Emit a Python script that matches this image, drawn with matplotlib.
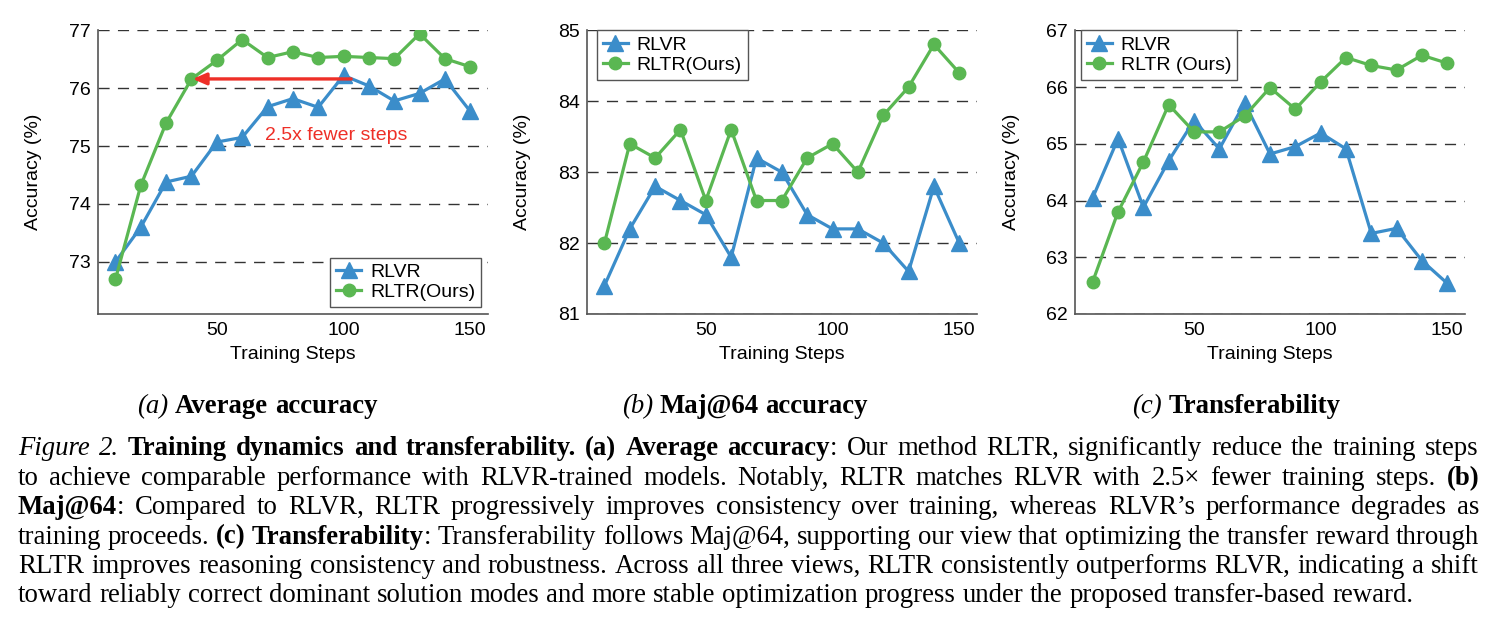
import matplotlib
matplotlib.use("Agg")
import matplotlib.pyplot as plt

plt.rcParams['font.family'] = ['Liberation Sans', 'DejaVu Sans']

# ---- data ----
steps = [10, 20, 30, 40, 50, 60, 70, 80, 90, 100, 110, 120, 130, 140, 150]

avg_rlvr = [73.0, 73.6, 74.38, 74.48, 75.07, 75.15, 75.68, 75.82, 75.67, 76.22, 76.04, 75.78, 75.91, 76.16, 75.6]
avg_rltr = [72.7, 74.32, 75.4, 76.16, 76.48, 76.84, 76.53, 76.63, 76.53, 76.55, 76.53, 76.51, 76.94, 76.51, 76.37]

maj_rlvr = [81.4, 82.2, 82.8, 82.6, 82.4, 81.8, 83.2, 83.0, 82.4, 82.2, 82.2, 82.0, 81.6, 82.8, 82.0]
maj_rltr = [82.0, 83.4, 83.2, 83.6, 82.6, 83.6, 82.6, 82.6, 83.2, 83.4, 83.0, 83.8, 84.2, 84.8, 84.4]

tr_rlvr = [64.05, 65.09, 63.88, 64.7, 65.41, 64.91, 65.72, 64.82, 64.95, 65.19, 64.91, 63.42, 63.51, 62.94, 62.54]
tr_rltr = [62.57, 63.8, 64.68, 65.69, 65.21, 65.21, 65.49, 65.99, 65.61, 66.09, 66.52, 66.38, 66.3, 66.56, 66.42]

panel_ylims = [(72.1, 77), (81, 85), (62, 67)]
panel_yticks = [[73, 74, 75, 76, 77], [81, 82, 83, 84, 85], [62, 63, 64, 65, 66, 67]]
xticks = [50, 100, 150]
legend_names = [["RLVR", "RLTR(Ours)"], ["RLVR", "RLTR(Ours)"], ["RLVR", "RLTR (Ours)"]]

subcaptions = [
    [("(a)", "i"), (" Average accuracy", "b")],
    [("(b)", "i"), (" Maj@64 accuracy", "b")],
    [("(c)", "i"), (" Transferability", "b")],
]
caption_lines = [
    [("Figure 2.", "i"), (" ", "r"), ("Training dynamics and transferability. (a) Average accuracy", "b"),
     (": Our method RLTR, significantly reduce the training steps", "r")],
    [("to achieve comparable performance with RLVR-trained models. Notably, RLTR matches RLVR with 2.5\u00d7 fewer training steps. ", "r"),
     ("(b)", "b")],
    [("Maj@64", "b"), (": Compared to RLVR, RLTR progressively improves consistency over training, whereas RLVR\u2019s performance degrades as", "r")],
    [("training proceeds. ", "r"), ("(c) Transferability", "b"),
     (": Transferability follows Maj@64, supporting our view that optimizing the transfer reward through", "r")],
    [("RLTR improves reasoning consistency and robustness. Across all three views, RLTR consistently outperforms RLVR, indicating a shift", "r")],
    [("toward reliably correct dominant solution modes and more stable optimization progress under the proposed transfer-based reward.", "r")],
]

BLUE = '#3b8dca'
GREEN = '#5ab752'
RED = '#ee2f27'

W, H = 1493, 637
fig = plt.figure(figsize=(W / 100, H / 100), dpi=100)


def px_axes(l, r, t, b):
    return [l / W, 1 - b / H, (r - l) / W, (b - t) / H]


axes_px = [(97.7, 488, 30.3, 314), (586.7, 977, 30.3, 314), (1075, 1465, 30.3, 314)]
series = [(avg_rlvr, avg_rltr), (maj_rlvr, maj_rltr), (tr_rlvr, tr_rltr)]
legend_loc = [('lower right', (0.982, 0.025)), ('upper left', (0.026, 1.0)), ('upper left', (0.015, 1.0))]

for i in range(3):
    ax = fig.add_axes(px_axes(*axes_px[i]))
    rlvr, rltr = series[i]
    ax.plot(steps, rlvr, color=BLUE, lw=2.3, marker='^', ms=11, label=legend_names[i][0], zorder=3)
    ax.plot(steps, rltr, color=GREEN, lw=2.3, marker='o', ms=9, label=legend_names[i][1], zorder=3)
    ax.set_xlim(3, 157)
    ax.set_ylim(*panel_ylims[i])
    ax.set_yticks(panel_yticks[i])
    ax.set_xticks(xticks)
    ax.tick_params(length=0, labelsize=14)
    ax.tick_params(axis='y', pad=5)
    ax.tick_params(axis='x', pad=6)
    ax.yaxis.grid(True, color='#333333', lw=1.0, dashes=(8, 6))
    ax.set_axisbelow(True)
    for s in ['top', 'right']:
        ax.spines[s].set_visible(False)
    for s in ['left', 'bottom']:
        ax.spines[s].set_color('#555555')
        ax.spines[s].set_linewidth(1.2)
    ax.set_xlabel('Training Steps', fontsize=14, labelpad=5)
    ax.set_ylabel('Accuracy (%)', fontsize=14)
    ax.yaxis.set_label_coords(-0.142, 0.5)
    loc, anchor = legend_loc[i]
    leg = ax.legend(loc=loc, bbox_to_anchor=anchor, borderaxespad=0, fontsize=14, fancybox=False,
                    framealpha=1, edgecolor='#555555', handlelength=1.3, handletextpad=0.45,
                    borderpad=0.3, labelspacing=0.12)
    leg.get_frame().set_linewidth(1.0)
    if i == 0:
        ax.annotate('', xy=(40.5, 76.16), xytext=(103, 76.16),
                    arrowprops=dict(arrowstyle='-|>,head_length=0.8,head_width=0.35', color=RED,
                                    lw=2.4, shrinkA=0, shrinkB=0), zorder=4)
        ax.text(97.2, 75.1, '2.5x fewer steps', color=RED, fontsize=14, ha='center', va='baseline')

# ---- caption text, laid out word by word ----
STYLE = {'r': dict(family='Liberation Serif'),
         'b': dict(family='Liberation Serif', weight='bold'),
         'i': dict(family='Liberation Serif', style='italic')}
renderer = fig.canvas.get_renderer()


def text_w(s, st, size):
    t = fig.text(0, 0, s, fontsize=size, **STYLE[st])
    w = t.get_window_extent(renderer).width
    t.remove()
    return w


def space_w(size):
    return text_w('a a', 'r', size) - text_w('aa', 'r', size)


def split_words(runs):
    words, cur = [], []
    for text, st in runs:
        parts = text.split(' ')
        for k, p in enumerate(parts):
            if k > 0 and cur:
                words.append(cur)
                cur = []
            if p:
                cur.append((p, st))
    if cur:
        words.append(cur)
    return words


def word_w(word, size):
    return sum(text_w(p, st, size) for p, st in word)


def draw_words(words, x, baseline, size, gap):
    for word in words:
        for p, st in word:
            fig.text(x / W, 1 - baseline / H, p, fontsize=size, ha='left', va='baseline', **STYLE[st])
            x += text_w(p, st, size)
        x += gap


# fit the font size so the last (unjustified) caption line spans 18 -> 1412 px
last = split_words(caption_lines[-1])
nat10 = sum(word_w(w, 10) for w in last) + (len(last) - 1) * space_w(10)
csize = 10 * (1412 - 18) / nat10

x0, x1 = 18, 1479
baselines = [455, 485, 514, 543.5, 573, 602.5]
for k, runs in enumerate(caption_lines):
    words = split_words(runs)
    ws = sum(word_w(w, csize) for w in words)
    sp = space_w(csize)
    if k < len(caption_lines) - 1:
        gap = max((x1 - x0 - ws) / (len(words) - 1), 0.5 * sp)
    else:
        gap = sp
    draw_words(words, x0, baselines[k], csize, gap)

sub_cx = [257, 745, 1236]
for k, runs in enumerate(subcaptions):
    words = split_words(runs)
    sp = space_w(csize)
    total = sum(word_w(w, csize) for w in words) + (len(words) - 1) * sp
    draw_words(words, sub_cx[k] - total / 2, 413.3, csize, sp)

fig.savefig('out.png', dpi=100)
